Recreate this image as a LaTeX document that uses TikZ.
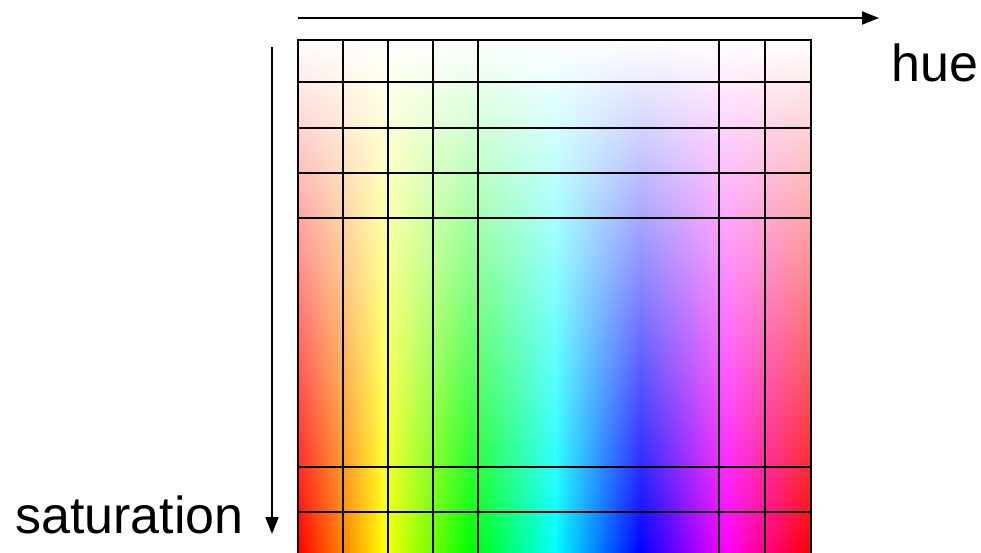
\documentclass[tikz,border=0pt]{standalone}
\usepackage{fontspec}
\setmainfont{Liberation Sans}
\usetikzlibrary{arrows.meta,fadings}
\tikzfading[name=whitefade, top color=transparent!0, bottom color=transparent!100]
\tikzset{
  gridline/.style={line width=2pt, black},
  axisarrow/.style={line width=2pt, black, -{Triangle[length=17pt,width=13pt]}},
  axislabel/.style={anchor=base west, inner sep=0pt, font=\fontsize{52pt}{60pt}\selectfont}
}
\begin{document}
\begin{tikzpicture}[x=1pt,y=-1pt]
\useasboundingbox (0,0) rectangle (981,553);
% hue bands
\foreach \a/\b/\ca/\cb in {298/384.5/red/yellow, 383.5/470/yellow/green, 469/555.5/green/cyan, 554.5/641/cyan/blue, 640/726.5/blue/magenta, 725.5/811/magenta/red}
  \shade[left color=\ca, right color=\cb] (\a,40) rectangle (\b,553);
% saturation overlay
\fill[white, path fading=whitefade] (298,40) rectangle (811,553);
% grid
\foreach \x in {298,343,388,433,478,719,765,811}
  \draw[gridline] (\x,39) -- (\x,554);
\foreach \y in {40,82,128,173,218,467,512}
  \draw[gridline] (297,\y) -- (812,\y);
% axes
\coordinate (hs) at (298,18);
\coordinate (he) at (879,18);
\draw[axisarrow] (hs) -- (he);
\coordinate (ss) at (272,47);
\coordinate (se) at (272,534);
\draw[axisarrow] (ss) -- (se);
\node[axislabel] (hue) at (891,82) {hue};
\node[axislabel] (sat) at (15,533) {saturation};
\end{tikzpicture}
\end{document}
